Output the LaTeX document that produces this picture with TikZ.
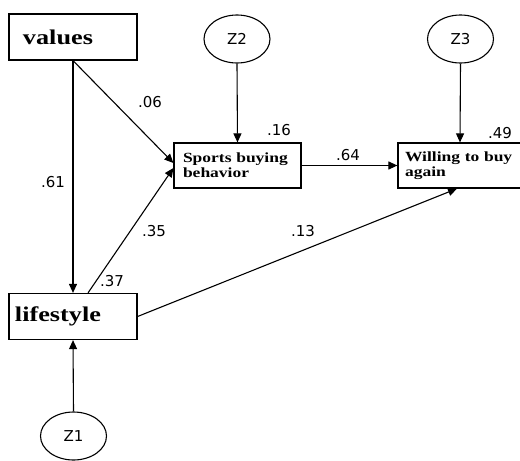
\documentclass[tikz,border=0pt]{standalone}
\usepackage{fontspec}
\usetikzlibrary{arrows.meta}
\usepgflibrary{shapes.geometric}
\newfontfamily\boxfont[FakeStretch=1.25]{Liberation Serif}
\newfontfamily\coeffont{DejaVu Sans}
\tikzset{%
construct/.style={draw,rectangle,line width=1.2pt,align=left,inner ysep=0pt,font=\boxfont\bfseries},
bigbox/.style={construct,minimum height=46pt,font=\boxfont\bfseries\fontsize{21}{24}\selectfont},
smallbox/.style={construct,minimum height=45pt,font=\boxfont\bfseries\fontsize{14}{15}\selectfont},
residual/.style={draw,ellipse,line width=1.1pt,minimum width=66pt,minimum height=48pt,inner sep=0pt,font=\coeffont\fontsize{15}{17}\selectfont},
coef/.style={inner sep=1pt,font=\coeffont\fontsize{15}{17}\selectfont},
causal/.style={line width=1.1pt,-{Triangle[length=9pt,width=8pt]}}
}
\begin{document}
\begin{tikzpicture}[x=1pt,y=-1pt]
  \clip (0,0) rectangle (520,461);

  % constructs
  \node[bigbox,text width=100pt,inner xsep=14pt] (values)    at (73,37)    {values};
  \node[bigbox,text width=116pt,inner xsep=6pt]  (lifestyle) at (73,316.5) {lifestyle};
  \node[smallbox,text width=109pt,inner xsep=9pt]  (sports)  at (237.5,165.5) {Sports buying\\behavior};
  \node[smallbox,text width=110pt,inner xsep=7pt] (willing) at (460,165.5)   {Willing to buy\\again};

  % disturbances
  \node[residual] (z1) at (73.5,436) {Z1};
  \node[residual] (z2) at (237,39)   {Z2};
  \node[residual] (z3) at (460.5,39) {Z3};

  % paths
  \draw[causal] (values.south) -- (lifestyle.north);
  \draw[causal] (values.south) -- ([yshift=2.5pt]sports.west);
  \draw[causal] ([xshift=15pt]lifestyle.north) -- ([yshift=-2.5pt]sports.west);
  \draw[causal] (lifestyle.east) -- ([xshift=-3pt]willing.south);
  \draw[causal] (sports.east) -- (willing.west);
  \draw[causal] (z1.north) -- (lifestyle.south);
  \draw[causal] (z2.south) -- (sports.north);
  \draw[causal] (z3.south) -- (willing.north);

  % coefficients
  \node[coef] (c61) at (53,182)  {.61};
  \node[coef] (c06) at (150,102) {.06};
  \node[coef] (c35) at (154,231) {.35};
  \node[coef] (c37) at (112,281) {.37};
  \node[coef] (c16) at (279,130) {.16};
  \node[coef] (c64) at (348,155) {.64};
  \node[coef] (c49) at (500,133) {.49};
  \node[coef] (c13) at (303,231) {.13};
\end{tikzpicture}
\end{document}
